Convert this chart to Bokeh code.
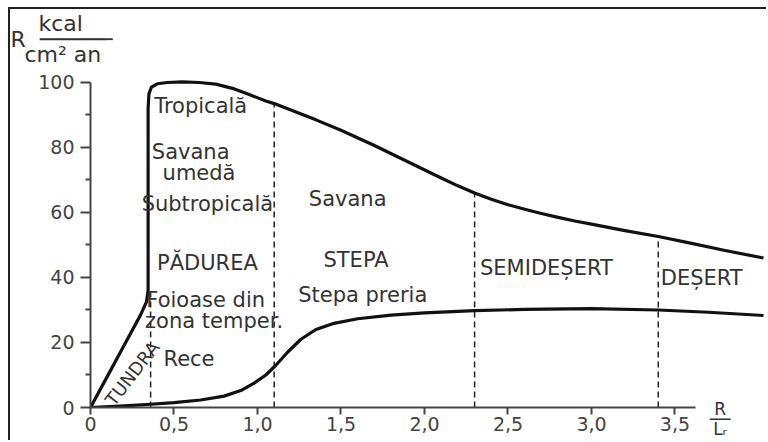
import numpy as np
from bokeh.plotting import figure
from bokeh.models import Range1d, FixedTicker, Label, LinearAxis, ColumnDataSource
from bokeh.core.properties import value
from bokeh.embed import file_html
from bokeh.resources import INLINE

# Upper curve: radiation balance limit (R, kcal/cm2 an) vs dryness index R/Lr
upper_x = [0, 0.1, 0.2, 0.3, 0.335, 0.345, 0.345, 0.35, 0.365, 0.40, 0.46, 0.55, 0.65, 0.75,
           0.85, 0.95, 1.05, 1.1, 1.2, 1.35, 1.5, 1.7, 1.9, 2.1, 2.2, 2.3, 2.4, 2.5, 2.6, 2.7, 2.8,
           2.9, 3.0, 3.2, 3.4, 3.6, 3.8, 4.03]
upper_y = [0, 9.5, 19, 28.5, 32.5, 36, 92, 96.5, 98.6, 99.6, 100, 100.2, 100, 99.5,
           98.2, 96.3, 94.3, 93.5, 91.5, 88.5, 85.3, 80.6, 75.6, 70.6, 68.2, 66, 64.1, 62.4, 61, 59.7, 58.5,
           57.4, 56.4, 54.4, 52.6, 50.5, 48.3, 46]

# Lower curve
lower_x = [0, 0.2, 0.36, 0.5, 0.66, 0.8, 0.9, 0.98, 1.05, 1.11, 1.18, 1.26, 1.35, 1.45, 1.6, 1.8,
           2.0, 2.3, 2.6, 3.0, 3.4, 3.7, 4.03]
lower_y = [0, 0.5, 1.0, 1.5, 2.3, 3.5, 5.2, 7.5, 10, 13, 17, 21, 24, 25.8, 27.3, 28.4,
           29.1, 29.8, 30.2, 30.4, 30, 29.3, 28.3]

# Zone boundaries (dashed)
boundary_x = [0.36, 1.1, 2.3, 3.4]
boundary_top = [36, 93.5, 66, 52.6]

x_ticks = [0, 0.5, 1.0, 1.5, 2.0, 2.5, 3.0, 3.5]
x_tick_labels = ["0", "0,5", "1,0", "1,5", "2,0", "2,5", "3,0", "3,5"]
y_ticks = [0, 20, 40, 60, 80, 100]
y_minor_ticks = [10, 30, 50, 70, 90]

zone_text = ["Tropicală", "Savana", "umedă", "Subtropicală", "PĂDUREA", "Foioase din",
             "zona temper.", "Rece", "Savana", "STEPA", "Stepa preria", "SEMIDEȘERT", "DEȘERT"]
zone_text_x = [0.66, 0.60, 0.65, 0.70, 0.70, 0.69, 0.74, 0.59, 1.54, 1.59, 1.63, 2.73, 3.66]
zone_text_y = [92.9, 78.5, 72.0, 62.5, 44.6, 33.2, 26.5, 15.0, 64.3, 45.5, 34.5, 43.0, 39.7]

FONT = "DejaVu Sans"
INK = "#111111"
TXT = "#333333"
NB = "\u00a0"

p = figure(width=758, height=433, x_range=Range1d(0, 4.06), y_range=Range1d(0, 102.15),
           output_backend="svg", toolbar_location=None, x_axis_type=None, y_axis_type=None,
           min_border_left=80, min_border_right=0, min_border_top=66, min_border_bottom=35)
p.outline_line_color = None
p.background_fill_color = "white"
p.border_fill_color = "white"
p.margin = (7, 0, 0, 8)
p.styles = {"border-left": "2px solid #222222", "border-top": "2px solid #222222"}

xaxis = LinearAxis(ticker=FixedTicker(ticks=x_ticks), bounds=(0, 3.62),
                   major_label_overrides={t: l for t, l in zip(x_ticks, x_tick_labels)})
xaxis.axis_line_width = 2
xaxis.axis_line_color = "#444444"
xaxis.major_tick_line_width = 2
xaxis.major_tick_line_color = "#444444"
xaxis.major_tick_out = 7
xaxis.major_tick_in = 0
xaxis.minor_tick_line_color = None
xaxis.major_label_standoff = 2
xaxis.major_label_text_font = FONT
xaxis.major_label_text_font_size = "19px"
xaxis.major_label_text_color = "#444444"
p.add_layout(xaxis, "below")

yaxis = LinearAxis(ticker=FixedTicker(ticks=y_ticks, minor_ticks=y_minor_ticks), bounds=(0, 100))
yaxis.axis_line_width = 2
yaxis.axis_line_color = "#444444"
yaxis.major_tick_line_width = 2
yaxis.major_tick_line_color = "#444444"
yaxis.major_tick_out = 10
yaxis.major_tick_in = 0
yaxis.minor_tick_line_width = 2
yaxis.minor_tick_line_color = "#444444"
yaxis.minor_tick_out = 5
yaxis.minor_tick_in = 0
yaxis.major_label_standoff = 6
yaxis.major_label_text_font = FONT
yaxis.major_label_text_font_size = "19px"
yaxis.major_label_text_color = "#444444"
p.add_layout(yaxis, "left")

# dashed zone boundaries
p.segment(x0=boundary_x, y0=[0] * len(boundary_x), x1=boundary_x, y1=boundary_top,
          line_color="#222222", line_width=1.5, line_dash="6 4")

# curves
p.line(upper_x, upper_y, line_color=INK, line_width=3.2, line_join="round")
p.line(lower_x, lower_y, line_color=INK, line_width=3.2, line_join="round")

# zone labels
src = ColumnDataSource(dict(x=zone_text_x, y=zone_text_y, t=zone_text))
p.text(x="x", y="y", text="t", source=src, text_font=value(FONT), text_font_size="21px",
       text_color=TXT, text_align="center", text_baseline="middle")

p.add_layout(Label(x=0.25, y=10.5, text="TUNDRA", angle=0.91, text_font=FONT, text_font_size="18px",
                   text_color=TXT, text_align="center", text_baseline="middle"))

# y axis title (placed in the top side panel so it is not clipped to the frame)
ytitle = NB * 4 + "kcal\nR" + NB * 2 + "─────╴\n" + NB * 2 + "cm\u00b2" + NB + "an"
p.add_layout(Label(x=-0.479, y=113.3, text=ytitle, text_font=FONT,
                   text_font_size="22px", text_color=TXT, text_align="left", text_baseline="middle",
                   text_line_height=0.62), "above")

# x axis title R / Lr (left side panel, positioned by data)
p.add_layout(Label(x=3.77, y=-3.4, text="R\n──\nL\u1d63", text_font=FONT,
                   text_font_size="17px", text_color=TXT, text_align="center", text_baseline="middle",
                   text_line_height=0.5), "left")

open("out.html", "w").write(file_html(p, INLINE))
